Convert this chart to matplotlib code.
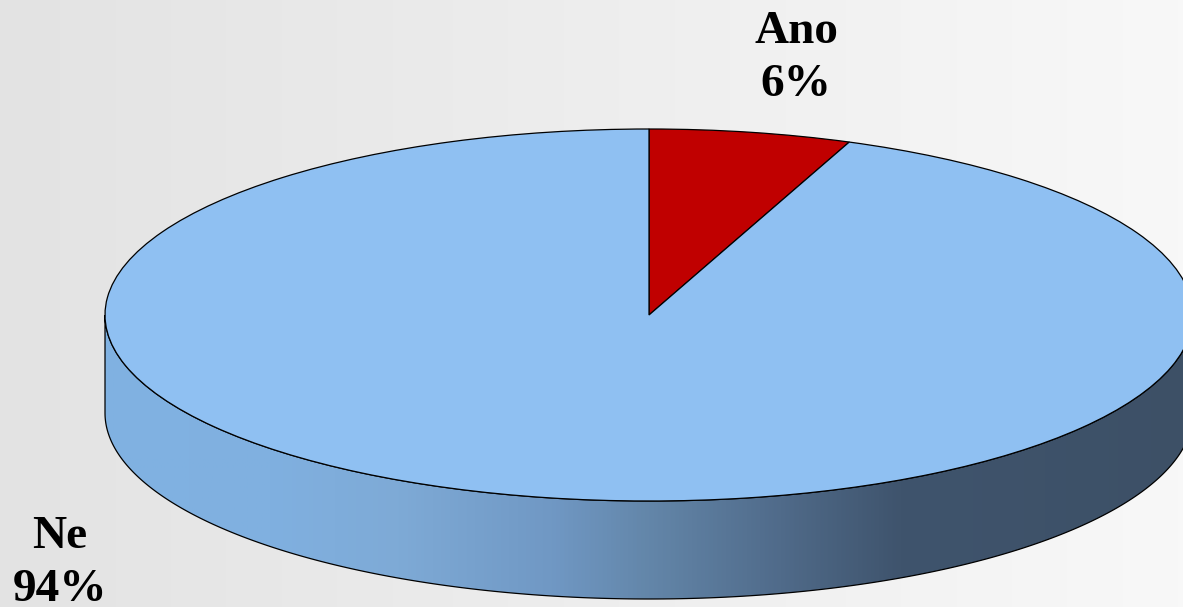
import numpy as np
import matplotlib
matplotlib.use("Agg")
from matplotlib import pyplot as plt
from matplotlib.colors import LinearSegmentedColormap
from matplotlib.patches import Polygon

# data
labels = ["Ano", "Ne"]
values = [6, 94]
colors = ["#c00000", "#8fc0f2"]

W, H = 1183, 607
fig = plt.figure(figsize=(W / 100, H / 100), dpi=100)

# background: light grey to near white
bg = fig.add_axes([0, 0, 1, 1])
bg.set_xlim(0, W)
bg.set_ylim(H, 0)
bg.axis("off")
bg_cmap = LinearSegmentedColormap.from_list("bg", ["#e3e3e3", "#f8f8f8"])
bg.imshow(np.linspace(0, 1, 256).reshape(1, -1), cmap=bg_cmap,
          extent=(0, W, H, 0), aspect="auto", zorder=0)

# pie geometry in pixels
cx, cy = 649, 315
rx, ry = 544, 186
depth = 98
pad = 0.03
d = depth / ry

left = (cx - rx * (1 + pad)) / W
width = 2 * rx * (1 + pad) / W
top_px = cy - ry * (1 + pad)
bot_px = cy + ry * (1 + d + pad)
ax = fig.add_axes([left, (H - bot_px) / H, width, (bot_px - top_px) / H])
ax.patch.set_alpha(0)

# side of the cylinder (front half)
t = np.linspace(np.pi, 2 * np.pi, 300)
xs = np.cos(t)
ys = np.sin(t)
side = np.concatenate([np.column_stack([xs, ys]),
                       np.column_stack([xs[::-1], ys[::-1] - d])])
side_patch = Polygon(side, closed=True, facecolor="none", edgecolor="black",
                     linewidth=0.9, zorder=2)
ax.add_patch(side_patch)

stops = [(0.0, "#80b2e2"), (0.15, "#80b0e0"), (0.27, "#7eaad6"),
         (0.41, "#7098c4"), (0.50, "#6386a9"), (0.62, "#506b8a"),
         (0.73, "#3f546d"), (1.0, "#3d5066")]
side_cmap = LinearSegmentedColormap.from_list("side", stops)
im = ax.imshow(np.linspace(0, 1, 512).reshape(1, -1), cmap=side_cmap,
               extent=(-1, 1, -1 - d, 0), aspect="auto", zorder=1)
im.set_clip_path(side_patch)

# top face
wedges, _ = ax.pie(values, colors=colors, startangle=90, counterclock=False,
                   radius=1, wedgeprops=dict(edgecolor="black", linewidth=0.9))
for w in wedges:
    w.set_zorder(3)

ax.set_aspect("auto")
ax.set_xlim(-1 - pad, 1 + pad)
ax.set_ylim(-1 - d - pad, 1 + pad)
ax.axis("off")

# labels
label_pos = [(796, 11), (60, 516)]
for lab, val, (lx, ly) in zip(labels, values, label_pos):
    bg.text(lx, ly, f"{lab}\n{val}%", ha="center", va="top",
            fontsize=34, fontweight="bold", family="Liberation Serif",
            linespacing=1.33, zorder=5)

fig.savefig("out.png", dpi=100)
